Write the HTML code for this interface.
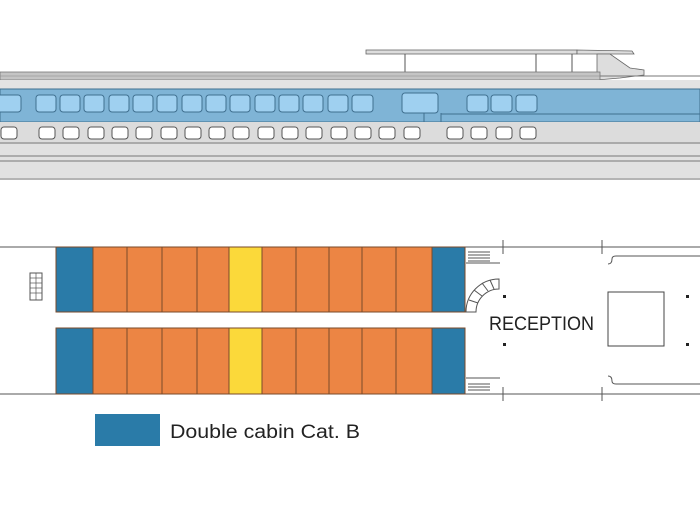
<!DOCTYPE html>
<html><head><meta charset="utf-8"><style>body{margin:0;background:#fff}svg{display:block}</style></head>
<body>
<svg width="700" height="525" viewBox="0 0 700 525" xmlns="http://www.w3.org/2000/svg">
<!-- top profile -->
<rect x="366" y="50" width="211" height="4" fill="#ddd" stroke="#666" stroke-width="0.8"/>
<polygon points="577,50 632,51 634,54 577,54" fill="#ddd" stroke="#666" stroke-width="0.8"/>
<line x1="405" y1="54" x2="405" y2="80" stroke="#555"/>
<line x1="536" y1="54" x2="536" y2="80" stroke="#555"/>
<line x1="572" y1="54" x2="572" y2="80" stroke="#555"/>
<polygon points="597,54 610,54 630,68 644,70 644,75 620,78 597,80" fill="#ddd" stroke="#666" stroke-width="0.8"/>
<rect x="0" y="72" width="600" height="8" fill="#c4c4c4" stroke="#777" stroke-width="0.8"/>
<line x1="0" y1="76" x2="600" y2="76" stroke="#888" stroke-width="0.6"/>
<rect x="0" y="80" width="700" height="10" fill="#e3e3e3"/>
<line x1="600" y1="76" x2="700" y2="76" stroke="#777"/>
<rect x="0" y="89" width="700" height="33" fill="#7fb4d6" stroke="#3f6f8f" stroke-width="1"/>
<rect x="0" y="122" width="700" height="22" fill="#dcdcdc"/>
<line x1="0" y1="143" x2="700" y2="143" stroke="#777"/>
<rect x="0" y="144" width="700" height="36" fill="#e1e1e1"/>
<line x1="0" y1="156" x2="700" y2="156" stroke="#777"/>
<line x1="0" y1="161" x2="700" y2="161" stroke="#777"/>
<line x1="0" y1="179" x2="700" y2="179" stroke="#888"/>
<g fill="#9fd0f0" stroke="#3f6f8f" stroke-width="1">
<rect x="-4" y="95" width="25" height="17" rx="3"/>
<rect x="36" y="95" width="20" height="17" rx="3"/><rect x="60" y="95" width="20" height="17" rx="3"/><rect x="84" y="95" width="20" height="17" rx="3"/><rect x="109" y="95" width="20" height="17" rx="3"/><rect x="133" y="95" width="20" height="17" rx="3"/><rect x="157" y="95" width="20" height="17" rx="3"/><rect x="182" y="95" width="20" height="17" rx="3"/><rect x="206" y="95" width="20" height="17" rx="3"/><rect x="230" y="95" width="20" height="17" rx="3"/><rect x="255" y="95" width="20" height="17" rx="3"/><rect x="279" y="95" width="20" height="17" rx="3"/><rect x="303" y="95" width="20" height="17" rx="3"/><rect x="328" y="95" width="20" height="17" rx="3"/><rect x="352" y="95" width="21" height="17" rx="3"/>
<rect x="402" y="93" width="36" height="20" rx="3"/>
<rect x="467" y="95" width="21" height="17" rx="3"/><rect x="491" y="95" width="21" height="17" rx="3"/><rect x="516" y="95" width="21" height="17" rx="3"/>
</g>
<line x1="424" y1="113" x2="424" y2="122" stroke="#3f6f8f"/><line x1="441" y1="113" x2="441" y2="122" stroke="#3f6f8f"/>
<line x1="441" y1="114" x2="700" y2="114" stroke="#3f6f8f"/>
<g fill="#fff" stroke="#555" stroke-width="1">
<rect x="1" y="127" width="16" height="12" rx="3"/>
<rect x="39" y="127" width="16" height="12" rx="3"/><rect x="63" y="127" width="16" height="12" rx="3"/><rect x="88" y="127" width="16" height="12" rx="3"/><rect x="112" y="127" width="16" height="12" rx="3"/><rect x="136" y="127" width="16" height="12" rx="3"/><rect x="161" y="127" width="16" height="12" rx="3"/><rect x="185" y="127" width="16" height="12" rx="3"/><rect x="209" y="127" width="16" height="12" rx="3"/><rect x="233" y="127" width="16" height="12" rx="3"/><rect x="258" y="127" width="16" height="12" rx="3"/><rect x="282" y="127" width="16" height="12" rx="3"/><rect x="306" y="127" width="16" height="12" rx="3"/><rect x="331" y="127" width="16" height="12" rx="3"/><rect x="355" y="127" width="16" height="12" rx="3"/><rect x="379" y="127" width="16" height="12" rx="3"/><rect x="404" y="127" width="16" height="12" rx="3"/>
<rect x="447" y="127" width="16" height="12" rx="3"/><rect x="471" y="127" width="16" height="12" rx="3"/><rect x="496" y="127" width="16" height="12" rx="3"/><rect x="520" y="127" width="16" height="12" rx="3"/>
</g>
<!-- deck plan -->
<line x1="0" y1="247" x2="700" y2="247" stroke="#555"/>
<line x1="0" y1="394" x2="700" y2="394" stroke="#555"/>
<g stroke="#7a4a2a" stroke-width="1">
<rect x="56" y="247" width="37" height="65" fill="#2a7ba8"/>
<rect x="432" y="247" width="33" height="65" fill="#2a7ba8"/>
<rect x="56" y="328" width="37" height="66" fill="#2a7ba8"/>
<rect x="432" y="328" width="33" height="66" fill="#2a7ba8"/>
<g fill="#ec8544">
<rect x="93" y="247" width="34" height="65"/><rect x="127" y="247" width="35" height="65"/><rect x="162" y="247" width="35" height="65"/><rect x="197" y="247" width="32" height="65"/><rect x="262" y="247" width="34" height="65"/><rect x="296" y="247" width="33" height="65"/><rect x="329" y="247" width="33" height="65"/><rect x="362" y="247" width="34" height="65"/><rect x="396" y="247" width="36" height="65"/>
<rect x="93" y="328" width="34" height="66"/><rect x="127" y="328" width="35" height="66"/><rect x="162" y="328" width="35" height="66"/><rect x="197" y="328" width="32" height="66"/><rect x="262" y="328" width="34" height="66"/><rect x="296" y="328" width="33" height="66"/><rect x="329" y="328" width="33" height="66"/><rect x="362" y="328" width="34" height="66"/><rect x="396" y="328" width="36" height="66"/>
</g>
<rect x="229" y="247" width="33" height="65" fill="#fbd93a"/>
<rect x="229" y="328" width="33" height="66" fill="#fbd93a"/>
</g>
<rect x="30" y="273" width="12" height="27" fill="#fff" stroke="#555"/>
<g stroke="#555" stroke-width="0.7"><line x1="30" y1="278" x2="42" y2="278"/><line x1="30" y1="283" x2="42" y2="283"/><line x1="30" y1="288" x2="42" y2="288"/><line x1="30" y1="293" x2="42" y2="293"/><line x1="36" y1="273" x2="36" y2="300"/></g>
<g stroke="#555" stroke-width="1">
<line x1="468" y1="252" x2="490" y2="252"/><line x1="468" y1="255" x2="490" y2="255"/><line x1="468" y1="258" x2="490" y2="258"/><line x1="468" y1="261" x2="490" y2="261"/>
<line x1="468" y1="384" x2="490" y2="384"/><line x1="468" y1="387" x2="490" y2="387"/><line x1="468" y1="390" x2="490" y2="390"/>
<line x1="466" y1="263" x2="500" y2="263"/><line x1="466" y1="378" x2="500" y2="378"/>
<line x1="503" y1="240" x2="503" y2="254"/><line x1="602" y1="240" x2="602" y2="254"/>
<line x1="503" y1="387" x2="503" y2="401"/><line x1="602" y1="387" x2="602" y2="401"/>
<path d="M608,264 Q612,264 612,259 Q612,256 616,256 L700,256" fill="none"/>
<path d="M608,376 Q612,376 612,381 Q612,384 616,384 L700,384" fill="none"/>
<path d="M466,312 A33,33 0 0 1 499,279 L499,289 A23,23 0 0 0 476,312 Z" fill="#fff"/>
<path d="M476,312 L466,312 M478,303 L469,300 M482,296 L474,290 M488,291 L482,283 M494,289 L490,280" fill="none"/>
</g>
<rect x="608" y="292" width="56" height="54" fill="#fff" stroke="#444"/>
<g fill="#222"><rect x="503" y="295" width="3" height="3"/><rect x="503" y="343" width="3" height="3"/><rect x="686" y="295" width="3" height="3"/><rect x="686" y="343" width="3" height="3"/></g>
<text x="489" y="330" font-family="Liberation Sans, sans-serif" font-size="19" fill="#222" textLength="105" lengthAdjust="spacingAndGlyphs">RECEPTION</text>
<!-- legend -->
<rect x="95" y="414" width="65" height="32" fill="#2a7ba8"/>
<text x="170" y="438" font-family="Liberation Sans, sans-serif" font-size="19" fill="#222" textLength="190" lengthAdjust="spacingAndGlyphs">Double cabin Cat. B</text>
</svg>
</body></html>
